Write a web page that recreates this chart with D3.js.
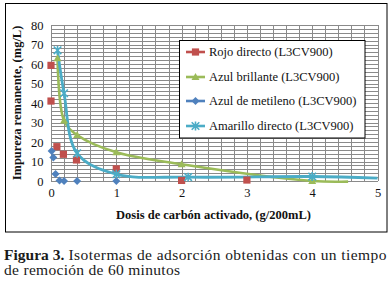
<!DOCTYPE html>
<html><head><meta charset="utf-8">
<script src="https://cdn.jsdelivr.net/npm/d3@7"></script>
<style>body{margin:0;background:#fff}svg{display:block}
svg text{font-family:"Liberation Serif","Times New Roman",Tinos,"DejaVu Serif",serif;}
</style>
</head><body><svg id="c" width="392" height="287"></svg>
<script>
// ---- data ----
const seriesNames = ["Rojo directo (L3CV900)", "Azul brillante (L3CV900)", "Azul de metileno (L3CV900)", "Amarillo directo (L3CV900)"];
const rojoX = [0, 0, 0.09, 0.19, 0.39, 1, 2, 3];
const rojoY = [59.3, 41, 17.6, 13.7, 10.8, 6.2, 0.3, 0.5];
const azulBrX = [0.1, 0.2, 0.4, 1, 2, 4];
const azulBrY = [63, 31, 23.6, 14.7, 8.6, 0];
const azulBrLineX = [0.1, 0.2, 0.4, 1, 2, 4, 4.55];
const azulBrLineY = [63, 31, 23.6, 14.7, 8.6, 0, -0.3];
const metX = [0.01, 0.035, 0.07, 0.13, 0.2, 0.4, 1];
const metY = [15.4, 12, 3.6, 0.3, 0, 0, 0];
const amaX = [0.1, 0.2, 0.4, 1, 2.1, 4];
const amaY = [67, 45, 14.2, 3.5, 2.0, 2.3];
const amaLineX = [0.1, 0.2, 0.4, 1, 2.1, 4, 5];
const amaLineY = [67, 45, 14.2, 3.5, 2.0, 2.3, 1.5];
const xTicks = [0, 1, 2, 3, 4, 5];
const yTicks = [0, 10, 20, 30, 40, 50, 60, 70, 80];
const xTitle = "Dosis de carbón activado, (g/200mL)";
const yTitle = "Impureza remanente, (mg/L)";
const capBold = "Figura 3.";
const capRest1 = "Isotermas de adsorción obtenidas con un tiempo";
const capLine2 = "de remoción de 60 minutos";

const colors = ["#C0504D", "#9BBB59", "#4F81BD", "#4BACC6"];

const svg = d3.select("#c");
const x = d3.scaleLinear().domain([0, 5]).range([51, 377.5]);
const y = d3.scaleLinear().domain([0, 80]).range([181, 25]);

// frame
svg.append("rect").attr("x", 5.5).attr("y", 3.5).attr("width", 381.5).attr("height", 228.5)
  .attr("fill", "#fff").attr("stroke", "#000").attr("stroke-width", 1);

// grid
const gx = svg.append("g").attr("transform", `translate(0,${y(0)})`)
  .call(d3.axisBottom(x).tickValues(d3.range(0, 26).map(i => i * 0.2)).tickSize(-(y(0) - y(80))).tickFormat(""));
const gy = svg.append("g").attr("transform", `translate(${x(0)},0)`)
  .call(d3.axisLeft(y).tickValues(d3.range(0, 41).map(i => i * 2)).tickSize(-(x(5) - x(0))).tickFormat(""));
[gx, gy].forEach(g => {
  g.select(".domain").remove();
  g.selectAll("line").attr("stroke", "#8a8a8a").attr("stroke-width", 1).attr("shape-rendering", "crispEdges");
});

// tick labels
const ax = svg.append("g").attr("transform", `translate(0,${y(0)})`)
  .call(d3.axisBottom(x).tickValues(xTicks).tickSize(0).tickPadding(7).tickFormat(d3.format("d")));
const ay = svg.append("g").attr("transform", `translate(${x(0)},0)`)
  .call(d3.axisLeft(y).tickValues(yTicks).tickSize(0).tickPadding(7.5).tickFormat(d3.format("d")));
[ax, ay].forEach(g => {
  g.attr("font-family", null).attr("font-size", null);
  g.select(".domain").remove();
  g.selectAll("text").style("font-size", "12.5px").attr("fill", "#111");
});

// titles
svg.append("text").attr("x", 213.5).attr("y", 218.5).attr("text-anchor", "middle")
  .style("font-size", "12.5px").style("font-weight", "bold").attr("fill", "#111").text(xTitle);
svg.append("text").attr("transform", "translate(20.5,103) rotate(-90)").attr("text-anchor", "middle")
  .style("font-size", "12.5px").style("font-weight", "bold").attr("fill", "#111").text(yTitle);

// marker shapes
function marker(g, type, cx, cy, color) {
  if (type === 0) {
    g.append("rect").attr("x", cx - 3.6).attr("y", cy - 3.6).attr("width", 7.2).attr("height", 7.2).attr("fill", color);
  } else if (type === 1) {
    g.append("path").attr("d", `M${cx},${cy - 4}L${cx + 4},${cy + 3}L${cx - 4},${cy + 3}Z`).attr("fill", color);
  } else if (type === 2) {
    g.append("path").attr("d", `M${cx},${cy - 4}L${cx + 4},${cy}L${cx},${cy + 4}L${cx - 4},${cy}Z`).attr("fill", color);
  } else {
    const r = 3.8;
    g.append("path").attr("d", `M${cx - r},${cy - r}L${cx + r},${cy + r}M${cx + r},${cy - r}L${cx - r},${cy + r}M${cx},${cy - r - 0.6}L${cx},${cy + r + 0.6}`)
      .attr("stroke", color).attr("stroke-width", 1.6).attr("fill", "none");
  }
}

const line = d3.line().x(d => x(d[0])).y(d => y(d[1])).curve(d3.curveCatmullRom.alpha(0.5));
const plot = svg.append("g");
plot.append("path").datum(d3.zip(azulBrLineX, azulBrLineY)).attr("d", line)
  .attr("fill", "none").attr("stroke", colors[1]).attr("stroke-width", 2.6);
plot.append("path").datum(d3.zip(amaLineX, amaLineY)).attr("d", line)
  .attr("fill", "none").attr("stroke", colors[3]).attr("stroke-width", 2.8);
d3.zip(rojoX, rojoY).forEach(d => marker(plot, 0, x(d[0]), y(d[1]), colors[0]));
d3.zip(metX, metY).forEach(d => marker(plot, 2, x(d[0]), y(d[1]), colors[2]));
d3.zip(azulBrX, azulBrY).forEach(d => marker(plot, 1, x(d[0]), y(d[1]), colors[1]));
d3.zip(amaX, amaY).forEach(d => marker(plot, 3, x(d[0]), y(d[1]), colors[3]));

// legend
const lg = svg.append("g");
lg.append("rect").attr("x", 179.5).attr("y", 40.5).attr("width", 185.5).attr("height", 97.5)
  .attr("fill", "#fff").attr("stroke", "#000").attr("stroke-width", 1);
const rowY = [52, 77, 101, 126];
seriesNames.forEach((n, i) => {
  lg.append("line").attr("x1", 186).attr("x2", 205).attr("y1", rowY[i]).attr("y2", rowY[i])
    .attr("stroke", colors[i]).attr("stroke-width", 2.6);
  marker(lg, i, 195.5, rowY[i], colors[i]);
  lg.append("text").attr("x", 209).attr("y", rowY[i] + 4.3)
    .style("font-size", "12.5px").attr("fill", "#111").text(n);
});

// caption
svg.append("text").attr("x", 4).attr("y", 259.5)
  .style("font-size", "15.5px").style("font-weight", "bold").attr("fill", "#1a1a1a").text(capBold);
svg.append("text").attr("x", 68.5).attr("y", 259.5).attr("textLength", 318).attr("lengthAdjust", "spacing")
  .style("font-size", "15.5px").attr("fill", "#1a1a1a").text(capRest1);
svg.append("text").attr("x", 4).attr("y", 275).attr("textLength", 176).attr("lengthAdjust", "spacing")
  .style("font-size", "15.5px").attr("fill", "#1a1a1a").text(capLine2);
</script></body></html>
